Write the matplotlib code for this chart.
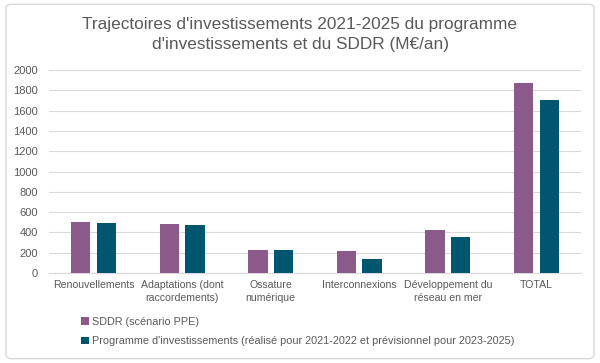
import numpy as np
import matplotlib.pyplot as plt
from matplotlib.patches import FancyBboxPatch

plt.rcParams['font.family'] = ['Liberation Sans', 'DejaVu Sans']

categories = ["Renouvellements", "Adaptations (dont\nraccordements)", "Ossature\nnumérique",
              "Interconnexions", "Développement du\nréseau en mer", "TOTAL"]
sddr = [503, 481, 231, 217, 424, 1875]
programme = [497, 468, 227, 142, 355, 1705]
series_names = ["SDDR (scénario PPE)",
                "Programme d'investissements (réalisé pour 2021-2022 et prévisionnel pour 2023-2025)"]

c_sddr = "#8b5a8a"
c_prog = "#00566f"
txt = "#595959"

fig = plt.figure(figsize=(6, 3.63), dpi=100)
frame = FancyBboxPatch((0.01, 0.012), 0.98, 0.976, boxstyle="round,pad=0,rounding_size=0.01",
                       transform=fig.transFigure, facecolor="white",
                       edgecolor="#d9d9d9", linewidth=1, zorder=-10)
fig.patches.append(frame)
ax = fig.add_axes([0.082, 0.248, 0.886, 0.559])

x = np.arange(len(categories))
w = 0.22
ax.bar(x - 0.145, sddr, w, color=c_sddr, label=series_names[0], zorder=3)
ax.bar(x + 0.145, programme, w, color=c_prog, label=series_names[1], zorder=3)

ax.set_xlim(-0.5, len(categories) - 0.5)
ax.set_ylim(0, 2000)
ax.set_yticks(range(0, 2001, 200))
ax.yaxis.grid(True, color="#d9d9d9", linewidth=0.8, zorder=0)
ax.set_xticks(x)
ax.set_xticklabels(categories, fontsize=7.6, color=txt, linespacing=1.35)
ax.tick_params(axis='y', labelsize=8, labelcolor=txt, length=0, pad=8)
ax.tick_params(axis='x', length=0, pad=5)
for s in ["top", "right", "left"]:
    ax.spines[s].set_visible(False)
ax.spines["bottom"].set_color("#d9d9d9")
ax.set_facecolor("none")

fig.text(0.5, 0.906, "Trajectoires d'investissements 2021-2025 du programme\nd'investissements et du SDDR (M€/an)",
         ha="center", va="center", fontsize=12.4, color=txt, linespacing=1.4)

fig.legend(loc="upper left", bbox_to_anchor=(0.128, 0.14), ncol=1, frameon=False,
           fontsize=7.8, labelcolor=txt, handlelength=0.7, handleheight=0.7,
           handletextpad=0.3, labelspacing=0.9, borderaxespad=0)

fig.savefig("out.png", dpi=100)
